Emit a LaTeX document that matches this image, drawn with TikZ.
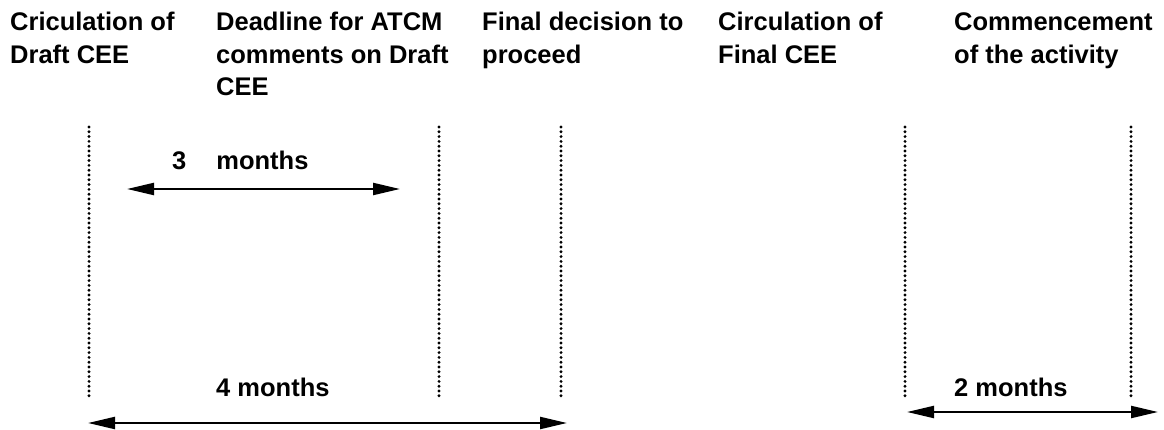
\documentclass[tikz,border=0pt]{standalone}
\usepackage{fontspec}
\setmainfont{Liberation Sans}
\usetikzlibrary{arrows.meta}
\tikzset{
  hdr/.style={anchor=base west, inner sep=0pt, font=\fontsize{25.5}{32.5}\selectfont\bfseries},
  lbl/.style={anchor=base west, inner sep=0pt, font=\fontsize{25.5}{32.5}\selectfont\bfseries},
  dotline/.style={line width=3.2pt, line cap=round, dash pattern=on 0pt off 4.8pt},
  span/.style={line width=2.2pt, {Triangle[length=27pt,width=12pt]}-{Triangle[length=27pt,width=12pt]}}
}
\begin{document}
\begin{tikzpicture}[x=1pt,y=-1pt]
\useasboundingbox (0,0) rectangle (1164,430);
% headers
\node[hdr] (h1) at (10,31) {\begin{tabular}[t]{@{}l@{}}Criculation of\\Draft CEE\end{tabular}};
\node[hdr] (h2) at (216,31) {\begin{tabular}[t]{@{}l@{}}Deadline for ATCM\\comments on Draft\\CEE\end{tabular}};
\node[hdr] (h3) at (482,31) {\begin{tabular}[t]{@{}l@{}}Final decision to\\proceed\end{tabular}};
\node[hdr] (h4) at (718,31) {\begin{tabular}[t]{@{}l@{}}Circulation of\\Final CEE\end{tabular}};
\node[hdr] (h5) at (954,31) {\begin{tabular}[t]{@{}l@{}}Commencement\\of the activity\end{tabular}};
% dotted timeline markers
\foreach \n/\x in {a/89,b/439,c/561,d/905,e/1131}{
  \coordinate (\n t) at (\x,127);
  \coordinate (\n b) at (\x,396);
  \draw[dotline] (\n t) -- (\n b);
}
% labels
\node[lbl] (l3) at (172,170) {3\hspace{30pt}months};
\node[lbl] (l4) at (216,396) {4 months};
\node[lbl] (l2) at (954,396) {2 months};
% spans
\coordinate (s3l) at (127,189);
\coordinate (s3r) at (400,189);
\coordinate (s4l) at (88,423);
\coordinate (s4r) at (567,423);
\coordinate (s2l) at (907,412);
\coordinate (s2r) at (1158,412);
\draw[span] (s3l) -- (s3r);
\draw[span] (s4l) -- (s4r);
\draw[span] (s2l) -- (s2r);
\end{tikzpicture}
\end{document}
